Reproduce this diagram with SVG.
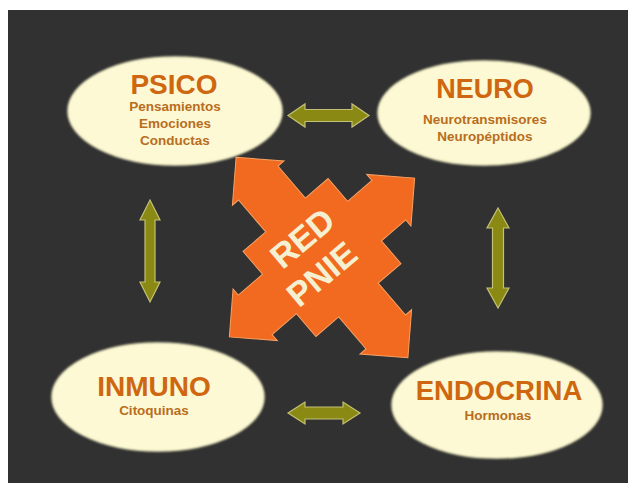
<svg xmlns="http://www.w3.org/2000/svg" width="628" height="483" viewBox="0 0 628 483">
<defs>
<filter id="soft" x="-10%" y="-10%" width="120%" height="120%"><feGaussianBlur stdDeviation="1.2"/></filter>
</defs>
<style>
.ell{fill:#fcf9d4;stroke:#f3efc6;stroke-width:1.5;filter:url(#soft)}
.title{font-family:"Liberation Sans",Arial,sans-serif;font-weight:bold;fill:#cf6610;text-anchor:middle}
.sub{font-family:"Liberation Sans",Arial,sans-serif;font-weight:bold;fill:#b96d1d;text-anchor:middle;font-size:13.5px}
.olive{fill:#8a8914;stroke:#c4c174;stroke-width:1.2}
.center{fill:#f26a1f;stroke:#f7a064;stroke-width:1}
.red{font-family:"Liberation Sans",Arial,sans-serif;font-weight:bold;fill:#f6f0d2;text-anchor:middle;font-size:34px}
</style>
<rect x="0" y="0" width="628" height="483" fill="#ffffff"/>
<rect x="8" y="10" width="620" height="473" fill="#313131"/>

<g id="connectors">
  <polygon class="olive" points="288,115.5 305,104 305,109.5 352,109.5 352,104 369,115.5 352,127 352,121.5 305,121.5 305,127"/>
  <polygon class="olive" points="288,413 305,402 305,407 343,407 343,402 360,413 343,424 343,419 305,419 305,424"/>
  <polygon class="olive" points="150,200 160,220 155,220 155,282 160,282 150,302 140,282 145,282 145,220 140,220"/>
  <polygon class="olive" points="498,208 509,228 503.5,228 503.5,288 509,288 498,308 487,288 492.5,288 492.5,228 487,228"/>
</g>

<g id="red-pnie">
  <polygon class="center" transform="translate(322,257.5) rotate(49.4)" points="56,-26 98,-26 98,-34 132,0 98,34 98,26 56,26 56,56 26,56 26,88 34,88 0,122 -34,88 -26,88 -26,56 -56,56 -56,26 -98,26 -98,34 -132,0 -98,-34 -98,-26 -56,-26 -56,-56 -26,-56 -26,-88 -34,-88 0,-122 34,-88 26,-88 26,-56 56,-56"/>
  <g transform="translate(312,256) rotate(-40)">
    <text class="red" x="4" y="-8">RED</text>
    <text class="red" x="-4" y="32">PNIE</text>
  </g>
</g>

<g id="psico">
  <ellipse class="ell" cx="175" cy="111" rx="107" ry="54"/>
  <text class="title" x="174" y="94" font-size="28">PSICO</text>
  <text class="sub" x="175" y="111">Pensamientos</text>
  <text class="sub" x="175" y="128">Emociones</text>
  <text class="sub" x="175" y="145">Conductas</text>
</g>

<g id="neuro">
  <ellipse class="ell" cx="484" cy="113" rx="106" ry="52"/>
  <text class="title" x="485" y="98" font-size="27">NEURO</text>
  <text class="sub" x="485" y="124">Neurotransmisores</text>
  <text class="sub" x="485" y="141">Neuropéptidos</text>
</g>

<g id="inmuno">
  <ellipse class="ell" cx="158" cy="397" rx="106" ry="54"/>
  <text class="title" x="154" y="396" font-size="28">INMUNO</text>
  <text class="sub" x="154" y="415">Citoquinas</text>
</g>

<g id="endocrina">
  <ellipse class="ell" cx="497" cy="405" rx="105" ry="53"/>
  <text class="title" x="499" y="400" font-size="27.5">ENDOCRINA</text>
  <text class="sub" x="498" y="420">Hormonas</text>
</g>
</svg>
